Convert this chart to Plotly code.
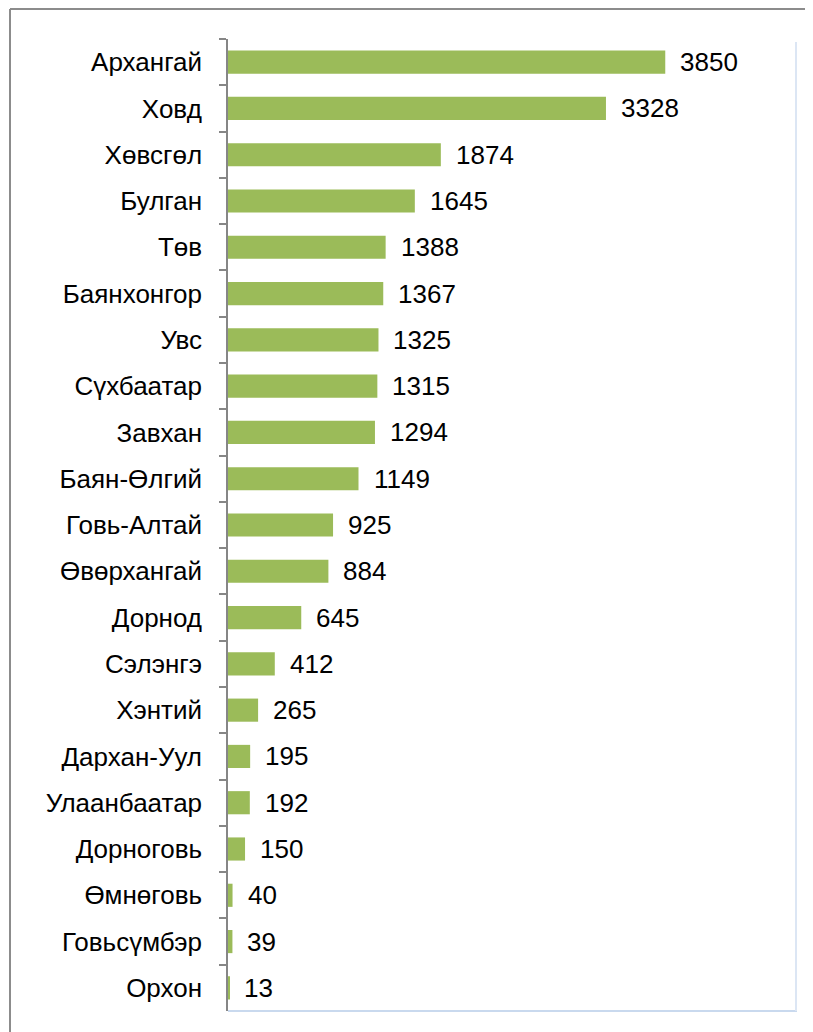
import plotly.graph_objects as go

categories = ["Архангай", "Ховд", "Хөвсгөл", "Булган", "Төв", "Баянхонгор", "Увс",
              "Сүхбаатар", "Завхан", "Баян-Өлгий", "Говь-Алтай", "Өвөрхангай", "Дорнод",
              "Сэлэнгэ", "Хэнтий", "Дархан-Уул", "Улаанбаатар", "Дорноговь", "Өмнөговь",
              "Говьсүмбэр", "Орхон"]
values = [3850, 3328, 1874, 1645, 1388, 1367, 1325, 1315, 1294, 1149, 925, 884, 645,
          412, 265, 195, 192, 150, 40, 39, 13]

OFF = 8  # browser body margin
W, H = 813 - OFF, 1032 - OFF
L, R, T, B = 228 - OFF, 797 - OFF, 39 - OFF, 1011 - OFF
FONT = "Liberation Sans, Arial, sans-serif"
FS = 26

fig = go.Figure(go.Bar(
    x=values, y=categories, orientation="h",
    marker=dict(color="#9BBB59", line=dict(width=0)),
    width=0.5, hoverinfo="skip",
))

annotations = [dict(x=v, y=c, xref="x", yref="y", text=str(v), showarrow=False,
                    xanchor="left", xshift=13, font=dict(size=FS, color="#000000", family=FONT))
               for c, v in zip(categories, values)]

pw, ph = R - L, B - T
def px(xp):
    return (xp - OFF - L) / pw
def py(yp):
    return (B - (yp - OFF)) / ph

shapes = [
    dict(type="line", xref="paper", yref="paper", x0=px(10), x1=px(815), y0=py(9), y1=py(9),
         line=dict(color="#8C8C8C", width=2)),
    dict(type="line", xref="paper", yref="paper", x0=px(10), x1=px(10), y0=py(9), y1=py(1034),
         line=dict(color="#8C8C8C", width=2)),
    dict(type="line", xref="paper", yref="paper", x0=0, x1=px(797), y0=0, y1=0,
         line=dict(color="#C9D9EE", width=2)),
    dict(type="line", xref="paper", yref="paper", x0=px(796), x1=px(796), y0=0, y1=py(42),
         line=dict(color="#DCE6F4", width=2)),
]

fig.update_layout(
    width=W, height=H,
    margin=dict(l=L, r=W - R, t=T, b=H - B, pad=0),
    paper_bgcolor="white", plot_bgcolor="white",
    showlegend=False,
    bargap=0.5,
    font=dict(family=FONT, size=FS, color="#000000"),
    xaxis=dict(range=[0, 5010], showgrid=False, zeroline=False, showticklabels=False,
               ticks="", showline=False, fixedrange=True),
    yaxis=dict(autorange="reversed", showgrid=False, zeroline=False,
               showline=True, linecolor="#868686", linewidth=1.5,
               ticks="outside", ticklen=7, tickcolor="#868686", tickwidth=1.5,
               tickson="boundaries", ticklabelstandoff=19,
               tickfont=dict(size=FS, family=FONT, color="#000000")),
    annotations=annotations,
    shapes=shapes,
)

fig.write_html("out.html")
